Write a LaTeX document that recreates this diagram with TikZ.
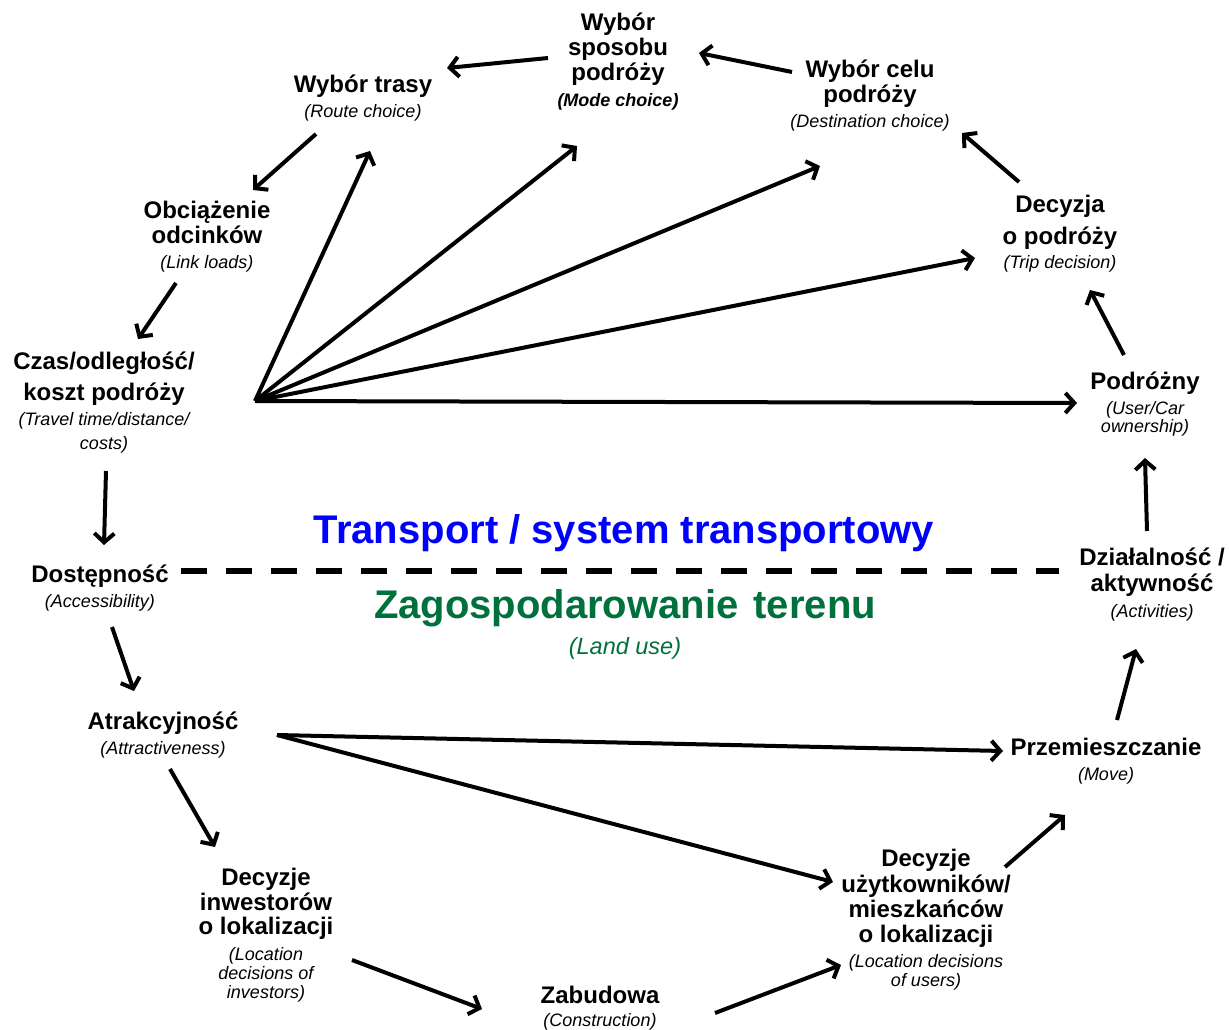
\documentclass[tikz,border=0pt]{standalone}
\usepackage{fontspec}
\setmainfont{Liberation Sans}
\usetikzlibrary{arrows.meta,calc}
\definecolor{blueT}{RGB}{0,0,255}
\definecolor{greenT}{RGB}{0,112,60}
\newcommand\subtxt{\mdseries\itshape\fontsize{18}{19}\selectfont}
\newcommand\subtxtb{\bfseries\itshape\fontsize{18}{19}\selectfont}
\newcommand\fs{\rule{0pt}{24pt}}
\tikzset{
  lbl/.style={align=center, inner sep=0pt, anchor=north, font=\bfseries\fontsize{24}{25}\selectfont},
  arr/.style={line width=4pt, -{Straight Barb[length=9pt,width=20pt]}},
  divider/.style={line width=5.5pt, dash pattern=on 26pt off 19pt},
  ttl/.style={anchor=base, inner sep=0pt, font=\bfseries\fontsize{40}{48}\selectfont}
}
\begin{document}
\begin{tikzpicture}[x=1pt,y=-1pt]
\useasboundingbox (0,0) rectangle (1229,1030);
% nodes
\node[lbl] (mode) at (618,6) {\fs Wybór\\sposobu\\podróży\\[1pt]\subtxtb(Mode choice)};
\node[lbl] (trasy) at (363,68) {\fs Wybór trasy\\\subtxt(Route choice)};
\node[lbl] (celu) at (870,53) {\fs Wybór celu\\podróży\\\subtxt(Destination choice)};
\node[lbl] (decyzja) at (1060,188) {\fs Decyzja\\[7pt]o podróży\\[-1pt]\subtxt(Trip decision)};
\node[lbl] (obc) at (207,194) {\fs Obciążenie\\odcinków\\\subtxt(Link loads)};
\node[lbl] (czas) at (104,345) {\fs Czas/odległość/\\[6pt]koszt podróży\\\subtxt(Travel time/distance/\\[-1pt]\subtxt costs)};
\node[lbl] (podrozny) at (1145,365) {\fs Podróżny\\\subtxt(User/Car\\[-7pt]\subtxt ownership)};
\node[lbl] (dost) at (100,558) {\fs Dostępność\\\subtxt(Accessibility)};
\node[lbl] (dzial) at (1152,541) {\fs Działalność /\\[1pt]aktywność\\[1pt]\subtxt(Activities)};
\node[lbl] (atrak) at (163,705) {\fs Atrakcyjność\\\subtxt(Attractiveness)};
\node[lbl] (przem) at (1106,731) {\fs Przemieszczanie\\\subtxt(Move)};
\node[lbl] (inw) at (266,861) {\fs Decyzje\\inwestorów\\[-1pt]o lokalizacji\\[1pt]\subtxt(Location\\[-6pt]\subtxt decisions of\\[-6pt]\subtxt investors)};
\node[lbl] (uzyt) at (926,842) {\fs Decyzje\\[1pt]użytkowników/\\mieszkańców\\o lokalizacji\\\subtxt(Location decisions\\[-6pt]\subtxt of users)};
\node[lbl] (zab) at (600,979) {\fs Zabudowa\\[-2pt]\subtxt(Construction)};
% titles
\node[ttl, text=blueT] (ttrans) at (624,543) {Transport / system transportowy};
\node[ttl, text=greenT] (tland) at (625,618) {Zagospodarowanie\hspace{4pt} terenu};
\node[anchor=base, inner sep=0pt, text=greenT, font=\itshape\fontsize{23.5}{28}\selectfont] (tlanduse) at (625,654) {(Land use)};
% divider
\draw[divider] ($(dost.north)+(81,13)$) -- ($(dzial.north)+(-93,30)$);
% arrows
\draw[arr] ($(mode.north)+(-70,52)$) -- ($(trasy.north)+(84,0)$);
\draw[arr] ($(celu.north)+(-78,19)$) -- ($(mode.north)+(81,47)$);
\draw[arr] ($(trasy.north)+(-47,66)$) -- ($(obc.north)+(46,-4)$);
\draw[arr] ($(obc.north)+(-31,89)$) -- ($(czas.north)+(34,-6)$);
\draw[arr] ($(czas.north)+(2,126)$) -- ($(dost.north)+(4,-13)$);
\draw[arr] ($(dost.north)+(12,69)$) -- ($(atrak.north)+(-29,-14)$);
\draw[arr] ($(atrak.north)+(7,64)$) -- ($(inw.north)+(-51,-14)$);
\draw[arr] ($(inw.north)+(86,99)$) -- ($(zab.north)+(-118,30)$);
\draw[arr] ($(zab.north)+(115,34)$) -- ($(uzyt.north)+(-85,123)$);
\draw[arr] ($(atrak.north)+(114,30)$) -- ($(przem.north)+(-103,20)$);
\draw[arr] ($(atrak.north)+(114,30)$) -- ($(uzyt.north)+(-93,40)$);
\draw[arr] ($(uzyt.north)+(79,25)$) -- ($(przem.north)+(-41,84)$);
\draw[arr] ($(przem.north)+(11,-11)$) -- ($(dzial.north)+(-16,108)$);
\draw[arr] ($(dzial.north)+(-5,-10)$) -- ($(podrozny.north)+(0,93)$);
\draw[arr] ($(podrozny.north)+(-21,-10)$) -- ($(decyzja.north)+(30,102)$);
\draw[arr] ($(decyzja.north)+(-41,-6)$) -- ($(celu.north)+(92,80)$);
% fan from travel time/costs
\coordinate (fan) at ($(czas.north)+(151,56)$);
\draw[arr] (fan) -- ($(trasy.north)+(7,83)$);
\draw[arr] (fan) -- ($(mode.north)+(-41,140)$);
\draw[arr] (fan) -- ($(celu.north)+(-50,113)$);
\draw[arr] (fan) -- ($(decyzja.north)+(-85,70)$);
\draw[arr] (fan) -- ($(podrozny.north)+(-68,38)$);
\end{tikzpicture}
\end{document}
